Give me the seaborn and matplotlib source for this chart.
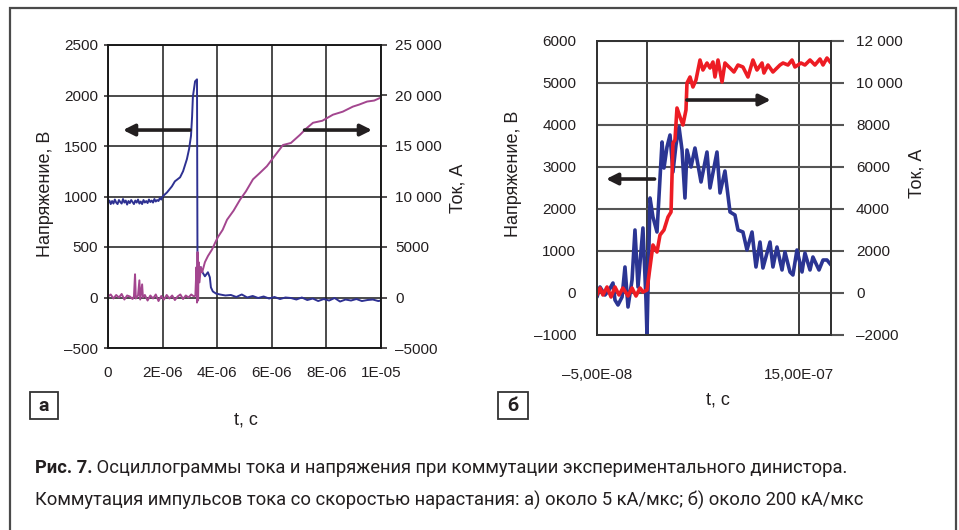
import numpy as np
import matplotlib
matplotlib.use("Agg")
import matplotlib.pyplot as plt
from matplotlib.patches import Rectangle
import seaborn as sns

sns.set_style("white")
plt.rcParams["font.family"] = ["Liberation Sans", "DejaVu Sans"]

W, H = 959, 530

# ---------- panel a: t in microseconds ----------
a_volt_t = [0.0, 0.05, 0.1, 0.15, 0.2, 0.25, 0.3, 0.35, 0.4, 0.45, 0.5, 0.55, 0.6, 0.65,
            0.7, 0.75, 0.8, 0.85, 0.9, 0.95, 1.0, 1.05, 1.1, 1.15, 1.2, 1.25, 1.3, 1.35,
            1.4, 1.45, 1.5, 1.55, 1.6, 1.65, 1.7, 1.75, 1.8, 1.85, 1.9, 1.95, 2.0,
            2.16, 2.34, 2.45, 2.64, 2.75, 2.89, 2.97,
            3.04, 3.08, 3.11, 3.19, 3.26, 3.28, 3.31, 3.35, 3.40, 3.46, 3.55, 3.66,
            3.73, 3.77, 3.84, 3.95, 4.1, 4.3, 4.5, 4.7, 4.9, 5.1, 5.3, 5.5, 5.7, 5.9,
            6.1, 6.3, 6.5, 6.7, 6.9, 7.1, 7.3, 7.5, 7.7, 7.9, 8.1, 8.3, 8.5, 8.7, 8.9,
            9.1, 9.3, 9.5, 9.7, 9.9, 10.0]
a_volt = [935, 960, 925, 955, 930, 970, 940, 925, 965, 945, 930, 975, 940, 960,
          920, 955, 935, 965, 945, 925, 960, 940, 970, 930, 950, 925, 965, 940,
          955, 935, 970, 945, 960, 940, 975, 950, 965, 955, 985, 970, 1000,
          1040, 1100, 1150, 1190, 1250, 1370, 1470,
          1600, 1790, 1990, 2140, 2160, 120, 330, 260, 300, 250, 210, 250,
          200, 100, 60, 40, 30, 20, 25, 5, 30, 0, 15, -5, 10, -10, 5,
          -15, 0, -5, -20, 0, -25, -10, -35, -15, -30, -5, -40, -20, -30,
          -15, -35, -25, -20, -35, -30]

a_curr_t = [0.0, 0.1, 0.2, 0.3, 0.4, 0.5, 0.6, 0.7, 0.8, 0.9, 0.95, 0.99, 1.02, 1.10,
            1.15, 1.18, 1.25, 1.28, 1.35, 1.45, 1.55, 1.65, 1.75, 1.85, 1.95, 2.05,
            2.15, 2.25, 2.35, 2.45, 2.55, 2.65, 2.75, 2.85, 2.95, 3.05, 3.15, 3.20,
            3.24, 3.26, 3.28, 3.30, 3.32, 3.35, 3.40, 3.45, 3.55, 3.66, 3.81, 3.92,
            4.03, 4.2, 4.36, 4.6, 4.84, 5.05, 5.31, 5.55, 5.82, 6.1, 6.41, 6.7, 7.03,
            7.25, 7.51, 7.85, 8.24, 8.6, 8.97, 9.2, 9.49, 9.75, 10.0]
a_curr = [100, 300, -100, 250, 0, 350, -200, 200, 100, -150, 100, 2300, -100, 200,
          1700, -200, 1300, 0, 250, -300, 200, -100, 300, -350, 150, -200,
          250, -100, 200, -250, 100, 300, -150, 200, 0, 300, 100, 200,
          3000, -500, 4500, -300, 3500, 1500, 3000, 2500, 3500, 4100, 4750, 5400,
          6000, 6700, 7700, 8600, 9700, 10500, 11700, 12300, 13000, 14000, 15100, 15300, 16100,
          16700, 17300, 17500, 18100, 18400, 18900, 19100, 19400, 19500, 19800]

a_xticks = [0, 2, 4, 6, 8, 10]
a_xlabels = ["0", "2E-06", "4E-06", "6E-06", "8E-06", "1E-05"]
a_vticks = [-500, 0, 500, 1000, 1500, 2000, 2500]
a_vlabels = ["–500", "0", "500", "1000", "1500", "2000", "2500"]
a_iticks = [-5000, 0, 5000, 10000, 15000, 20000, 25000]
a_ilabels = ["–5000", "0", "5000", "10 000", "15 000", "20 000", "25 000"]

# ---------- panel b: t in nanoseconds ----------
b_volt_t = [-50.0, -47.0, -42.1, -38.1, -34.2, -32.2, -29.2, -25.2, -22.3, -19.3, -15.3,
            -12.4, -9.4, -4.5, -1.5, -0.5, 2.5, 5.4, 9.4, 14.4, 16.3, 19.3, 22.3, 25.2,
            28.2, 31.2, 34.2, 37.1, 39.1, 43.1, 47.0, 53.0, 58.9, 61.9, 68.8, 71.8,
            76.7, 81.7, 86.6, 89.6, 94.5, 98.5, 103.5, 107.4, 111.4, 114.3, 121.3,
            124.2, 128.2, 133.2, 136.1, 141.1, 144.0, 148.0, 153.0, 155.9, 160.9,
            163.8, 169.8, 173.8, 177.7, 181.7]
b_volt = [-95, 143, -48, 71, 238, -167, -286, -95, 619, -333, 310,
          1500, 143, 1548, -167, -1000, 2262, 1810, 1452, 3595, 2976, 3476, 3762, 2881,
          3524, 3952, 3405, 2262, 3405, 3000, 3452, 2643, 3357, 2500, 3357, 2381,
          2905, 1929, 1857, 1500, 1452, 1024, 1452, 619, 1214, 595, 1214,
          619, 1095, 548, 976, 500, 429, 1024, 500, 952, 548,
          857, 548, 786, 786, 667]

b_curr_t = [-50.0, -47.0, -44.1, -40.1, -36.1, -32.2, -28.2, -24.3, -19.3, -15.3, -11.4,
            -7.4, -4.5, -0.5, 2.5, 5.4, 9.4, 12.4, 16.3, 20.3, 23.3, 25.2, 27.2, 29.2,
            32.2, 35.1, 38.1, 39.1, 42.1, 45.0, 48.0, 52.0, 54.9, 58.9, 61.9, 64.8,
            66.8, 69.8, 73.8, 76.7, 81.7, 85.6, 89.6, 94.5, 99.5, 104.4, 108.4, 113.4,
            115.3, 119.3, 124.2, 131.2, 134.2, 139.1, 143.1, 146.0, 152.0, 155.9,
            160.9, 165.8, 170.8, 173.8, 177.7, 181.7]
b_curr = [-95, 238, -95, 286, -190, 286, -95, 238, -143, 238, -143,
          238, 48, 143, 1238, 2286, 1952, 2762, 3000, 3619, 3857, 7143, 7286, 8810,
          8381, 8000, 8714, 10000, 10286, 9810, 10143, 11095, 10619, 10952, 10714, 11000,
          10286, 11095, 10048, 10952, 10714, 10524, 10857, 10762, 10286, 11095, 10619, 10952,
          10476, 10857, 10524, 10857, 10952, 10857, 11095, 10762, 10952, 10857,
          11095, 10857, 11143, 10857, 11190, 10952]

b_xticks = [-50, 0, 150, 181.7]
b_xlabels = ["–5,00E-08", "", "15,00E-07", ""]
b_vticks = [-1000, 0, 1000, 2000, 3000, 4000, 5000, 6000]
b_vlabels = ["–1000", "0", "1000", "2000", "3000", "4000", "5000", "6000"]
b_iticks = [-2000, 0, 2000, 4000, 6000, 8000, 10000, 12000]
b_ilabels = ["–2000", "0", "2000", "4000", "6000", "8000", "10 000", "12 000"]

caption_bold = "Рис. 7."
caption_1 = " Осциллограммы тока и напряжения при коммутации экспериментального динистора."
caption_2 = "Коммутация импульсов тока со скоростью нарастания: а) около 5 кА/мкс; б) около 200 кА/мкс"


def fx(x):
    return x / W


def fy(y):
    return 1 - y / H


def rect(x0, y0, x1, y1):
    return [fx(x0), fy(y1), fx(x1) - fx(x0), fy(y0) - fy(y1)]


fig = plt.figure(figsize=(W / 100, H / 100), dpi=100)
fig.patch.set_facecolor("white")
fig.patches.append(Rectangle((fx(10), fy(545)), fx(956) - fx(10), fy(8) - fy(545),
                             transform=fig.transFigure, fill=False,
                             edgecolor="#4a4a4a", lw=1.6))

TICK_FS = 11
TXT = "#231f20"

# ---- panel a ----
ax = fig.add_axes(rect(108, 45, 381, 348))
sns.lineplot(x=a_volt_t, y=a_volt, ax=ax, sort=False, estimator=None,
             color="#2e3192", lw=1.4)
ax.set_xlim(0, 10)
ax.set_ylim(-500, 2500)
ax.set_xticks(a_xticks, a_xlabels)
ax.set_yticks(a_vticks, a_vlabels)
ax.grid(True, color="#1a1a1a", lw=1.1)
ax.tick_params(axis="x", length=0, pad=13, labelsize=TICK_FS, colors=TXT)
ax.tick_params(axis="y", length=3, width=1.1, pad=4, labelsize=TICK_FS, colors=TXT)
for s in ax.spines.values():
    s.set_color("#1a1a1a")
    s.set_linewidth(1.2)
ax.set_xlabel("")
ax.set_ylabel("")

ax2 = ax.twinx()
sns.lineplot(x=a_curr_t, y=a_curr, ax=ax2, sort=False, estimator=None,
             color="#a3468f", lw=1.4)
ax2.set_ylim(-5000, 25000)
ax2.set_yticks(a_iticks, a_ilabels)
ax2.tick_params(axis="y", length=4, width=1.1, pad=6, labelsize=TICK_FS, colors=TXT)
ax2.set_ylabel("")
for s in ax2.spines.values():
    s.set_color("#1a1a1a")
    s.set_linewidth(1.2)

arrow = dict(arrowstyle="-|>", color=TXT, lw=2.6, mutation_scale=17, shrinkA=0, shrinkB=0)
ax2.annotate("", xy=(0.55, 16580), xytext=(3.0, 16580), arrowprops=arrow)
ax2.annotate("", xy=(9.67, 16580), xytext=(7.2, 16580), arrowprops=arrow)

# ---- panel b ----
bx = fig.add_axes(rect(597, 41, 831, 335))
sns.lineplot(x=b_volt_t, y=b_volt, ax=bx, sort=False, estimator=None,
             color="#2b3593", lw=2.6)
bx.set_xlim(-50, 181.7)
bx.set_ylim(-1000, 6000)
bx.set_xticks(b_xticks, b_xlabels)
bx.set_yticks(b_vticks, b_vlabels)
bx.grid(True, axis="y", color="#555555", lw=1.5)
bx.grid(True, axis="x", color="#1a1a1a", lw=1.2)
bx.tick_params(axis="x", length=0, pad=24, labelsize=TICK_FS, colors=TXT)
bx.tick_params(axis="y", length=0, pad=15, labelsize=TICK_FS, colors=TXT)
for s in bx.spines.values():
    s.set_color("#333333")
    s.set_linewidth(1.4)
bx.set_xlabel("")
bx.set_ylabel("")

bx2 = bx.twinx()
sns.lineplot(x=b_curr_t, y=b_curr, ax=bx2, sort=False, estimator=None,
             color="#ed1c24", lw=2.6)
bx2.set_ylim(-2000, 12000)
bx2.set_yticks(b_iticks, b_ilabels)
bx2.tick_params(axis="y", length=9, width=1.5, color="#555555", pad=9,
                labelsize=TICK_FS, colors=TXT)
bx2.set_ylabel("")
for s in bx2.spines.values():
    s.set_color("#333333")
    s.set_linewidth(1.4)

bx2.annotate("", xy=(-41, 5428), xytext=(7, 5428), arrowprops=arrow)
bx2.annotate("", xy=(122, 9190), xytext=(39, 9190), arrowprops=arrow)

# ---- axis titles ----
LAB_FS = 13
fig.text(fx(46), fy(194), "Напряжение, В", rotation=90, ha="center", va="center",
         fontsize=LAB_FS, color=TXT)
fig.text(fx(458), fy(188), "Ток, А", rotation=90, ha="center", va="center",
         fontsize=LAB_FS, color=TXT)
fig.text(fx(514), fy(174), "Напряжение, В", rotation=90, ha="center", va="center",
         fontsize=LAB_FS, color=TXT)
fig.text(fx(917), fy(173), "Ток, А", rotation=90, ha="center", va="center",
         fontsize=LAB_FS, color=TXT)
fig.text(fx(246), fy(420), "t, c", ha="center", va="center", fontsize=LAB_FS, color=TXT)
fig.text(fx(718), fy(400), "t, c", ha="center", va="center", fontsize=LAB_FS, color=TXT)

# ---- panel letters ----
for (x0, x1, letter) in [(30, 58, "а"), (498, 528, "б")]:
    fig.patches.append(Rectangle((fx(x0), fy(419)), fx(x1) - fx(x0), fy(392) - fy(419),
                                 transform=fig.transFigure, fill=True, facecolor="white",
                                 edgecolor="#333333", lw=1.3))
    fig.text(fx((x0 + x1) / 2), fy(406), letter, ha="center", va="center",
             fontsize=14, fontweight="bold", family="Roboto", color=TXT)

# ---- caption ----
CAP_FS = 13.25
t1 = fig.text(fx(35), fy(468), caption_bold, ha="left", va="center", fontsize=CAP_FS,
              fontweight="bold", family="Roboto", color=TXT)
renderer = fig.canvas.get_renderer()
bb = t1.get_window_extent(renderer)
fig.text(bb.x1 / (W), fy(468), caption_1, ha="left", va="center", fontsize=CAP_FS,
         family="Roboto", color=TXT)
fig.text(fx(35), fy(500), caption_2, ha="left", va="center", fontsize=CAP_FS,
         family="Roboto", color=TXT)

fig.savefig("out.png", dpi=100)
